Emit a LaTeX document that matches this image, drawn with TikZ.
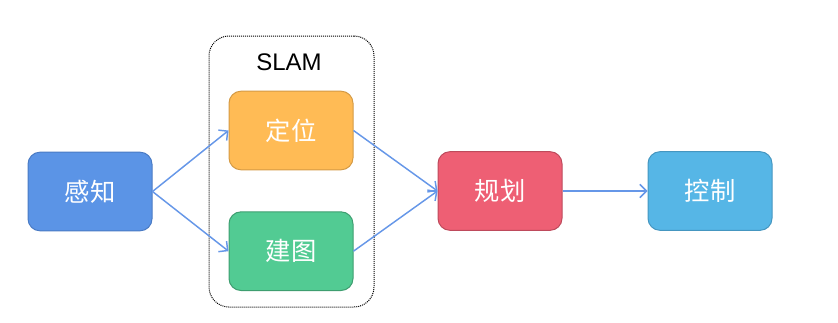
\documentclass[tikz,border=0pt]{standalone}
\usepackage{fontspec}
\setmainfont{Liberation Sans}
\newfontfamily\cjk{Noto Sans CJK SC}
\usetikzlibrary{arrows.meta,positioning}
\definecolor{blue}{HTML}{5B94E6}
\definecolor{blueline}{HTML}{4A7BC4}
\definecolor{amber}{HTML}{FFBB55}
\definecolor{amberline}{HTML}{D49A45}
\definecolor{green}{HTML}{52CB93}
\definecolor{greenline}{HTML}{3E9E70}
\definecolor{red}{HTML}{EE5F74}
\definecolor{redline}{HTML}{BE4A5C}
\definecolor{sky}{HTML}{56B6E6}
\definecolor{skyline}{HTML}{4596C0}
\definecolor{link}{HTML}{6697E8}

\begin{document}
\begin{tikzpicture}[x=0.75pt,y=-0.75pt,box/.style={rounded corners=9pt,draw=blueline,fill=blue,line width=0.75pt,minimum width=93pt,minimum height=59pt,inner sep=0pt,text=white,font=\cjk\fontsize{19}{21}\selectfont},arrow/.style={-{Straight Barb[length=5pt,width=10pt]},line width=1.1pt,link},group/.style={rounded corners=15pt,draw=black,line width=0.75pt,dash pattern=on 0.75pt off 0.75pt,minimum width=123.75pt,minimum height=203.25pt,inner sep=0pt}]
 \useasboundingbox (0,0) rectangle (838,322);
 \node[group] (slam) at (291.5,171.5) {};
 \node[font=\fontsize{18}{20}\selectfont] (title) at (289,62) {SLAM};
 \node[box] (perceive) at (90,191.5) {感知};
 \node[box,draw=amberline,fill=amber] (locate) at (291,130.5) {定位};
 \node[box,draw=greenline,fill=green,below=30.75pt of locate] (mapping) {建图};
 \node[box,draw=redline,fill=red] (plan) at (500,191) {规划};
 \node[box,draw=skyline,fill=sky,right=63.75pt of plan] (control) {控制};
 \draw[arrow] (perceive.east)--(locate.west); \draw[arrow] (perceive.east)--(mapping.west);
 \draw[arrow] (locate.east)--(plan.west); \draw[arrow] (mapping.east)--(plan.west);
 \draw[arrow] (plan)--(control);
\end{tikzpicture}
\end{document}
